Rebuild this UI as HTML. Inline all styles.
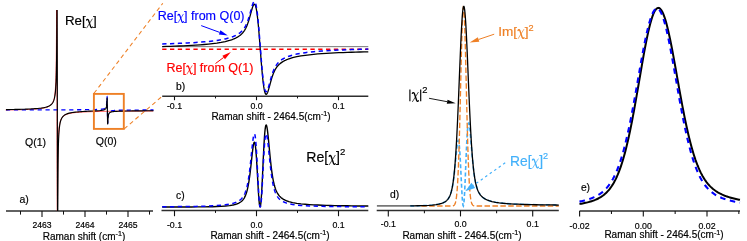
<!DOCTYPE html>
<html><head><meta charset="utf-8"><title>fig</title>
<style>
html,body{margin:0;padding:0;background:#fff;}
body{width:747px;height:241px;overflow:hidden;}
svg{display:block;}
text{font-family:"Liberation Sans",sans-serif;}
</style></head><body>
<svg width="747" height="241" viewBox="0 0 747 241">
<rect width="747" height="241" fill="#fff"/>
<line x1="6" y1="211" x2="153" y2="211" stroke="#2e2e2e" stroke-width="1.45"/>
<line x1="42.0" y1="211" x2="42.0" y2="217.1" stroke="#111" stroke-width="1.1"/>
<line x1="85.0" y1="211" x2="85.0" y2="217.1" stroke="#111" stroke-width="1.1"/>
<line x1="128.0" y1="211" x2="128.0" y2="217.1" stroke="#111" stroke-width="1.1"/>
<line x1="20.5" y1="211" x2="20.5" y2="214.6" stroke="#111" stroke-width="1.05"/>
<line x1="63.5" y1="211" x2="63.5" y2="214.6" stroke="#111" stroke-width="1.05"/>
<line x1="106.5" y1="211" x2="106.5" y2="214.6" stroke="#111" stroke-width="1.05"/>
<line x1="149.5" y1="211" x2="149.5" y2="214.6" stroke="#111" stroke-width="1.05"/>
<clipPath id="ca"><rect x="5" y="10" width="149" height="201"/></clipPath>
<g clip-path="url(#ca)">
<path d="M5.70,109.97 L7.22,109.95 L8.73,109.93 L10.25,109.90 L11.77,109.88 L13.29,109.85 L14.80,109.82 L16.32,109.79 L17.84,109.76 L19.36,109.72 L20.87,109.68 L22.39,109.64 L23.91,109.59 L25.42,109.54 L26.94,109.49 L28.46,109.43 L29.98,109.36 L31.49,109.28 L33.01,109.19 L34.53,109.10 L36.04,108.98 L37.56,108.85 L39.08,108.70 L40.60,108.52 L42.11,108.31 L43.63,108.04 L45.15,107.71 L46.67,107.28 L48.18,106.70 L49.70,105.88 L49.84,105.79 L49.98,105.69 L50.12,105.59 L50.26,105.49 L50.41,105.38 L50.55,105.26 L50.69,105.14 L50.83,105.02 L50.97,104.89 L51.11,104.75 L51.25,104.60 L51.39,104.45 L51.53,104.29 L51.67,104.13 L51.82,103.95 L51.96,103.76 L52.10,103.57 L52.24,103.36 L52.38,103.14 L52.52,102.90 L52.66,102.65 L52.80,102.38 L52.94,102.10 L53.08,101.79 L53.23,101.46 L53.37,101.11 L53.51,100.73 L53.65,100.31 L53.79,99.86 L53.93,99.36 L54.07,98.82 L54.21,98.23 L54.35,97.57 L54.49,96.83 L54.64,96.01 L54.78,95.08 L54.92,94.03 L55.06,92.82 L55.20,91.41 L55.75,82.74 L55.80,81.50 L55.85,80.19 L55.90,78.80 L55.94,77.34 L55.99,75.79 L56.03,74.14 L56.07,72.38 L56.11,70.49 L56.14,68.47 L56.18,66.30 L56.21,63.96 L56.25,61.44 L56.28,58.73 L56.31,55.82 L56.34,52.72 L56.37,49.44 L56.39,45.98 L56.42,42.37 L56.45,38.64 L56.47,34.84 L56.49,31.00 L56.52,27.17 L56.54,23.41 L56.56,19.77 L56.58,16.28 L56.60,13.01 L56.61,9.98 L56.63,7.24 L56.65,4.82 L56.66,2.74 L56.68,1.01 L56.70,-0.35 L56.71,-1.35 L56.72,-1.98 L56.74,-2.25 L56.75,-2.17 L56.76,-1.76 L56.78,-1.03 L56.79,-0.01 L56.80,1.29 L56.81,2.84 L56.82,4.62 L56.83,6.61 L56.84,8.78 L56.85,11.12 L56.86,13.60 L56.87,16.20 L56.87,18.91 L56.88,21.71 L56.89,24.58 L56.90,27.51 L56.90,30.48 L56.91,33.49 L56.92,36.53 L56.93,39.57 L56.93,42.63 L56.94,45.68 L56.94,48.73 L56.95,51.76 L56.96,54.78 L56.96,57.79 L56.97,60.77 L56.97,63.72 L56.98,66.66 L56.98,69.56 L56.99,72.44 L56.99,75.30 L57.00,78.13 L57.00,80.93 L57.01,83.72 L57.01,86.48 L57.02,89.22 L57.02,91.94 L57.02,94.64 L57.03,97.33 L57.03,100.01 L57.04,102.68 L57.04,105.34 L57.05,108.00 L57.05,110.65 L57.05,113.30 L57.06,115.96 L57.06,118.62 L57.07,121.29 L57.07,123.97 L57.08,126.66 L57.08,129.36 L57.08,132.08 L57.09,134.82 L57.09,137.58 L57.10,140.37 L57.10,143.17 L57.11,146.00 L57.11,148.86 L57.12,151.74 L57.12,154.64 L57.13,157.58 L57.13,160.53 L57.14,163.51 L57.14,166.52 L57.15,169.54 L57.16,172.57 L57.16,175.62 L57.17,178.67 L57.17,181.73 L57.18,184.77 L57.19,187.81 L57.20,190.82 L57.20,193.79 L57.21,196.72 L57.22,199.59 L57.23,202.39 L57.23,205.10 L57.24,207.70 L57.25,210.18 L57.26,212.52 L57.27,214.69 L57.28,216.68 L57.29,218.46 L57.30,220.01 L57.31,221.31 L57.32,222.33 L57.34,223.06 L57.35,223.47 L57.36,223.55 L57.38,223.28 L57.39,222.65 L57.40,221.65 L57.42,220.29 L57.44,218.56 L57.45,216.48 L57.47,214.06 L57.49,211.32 L57.50,208.29 L57.52,205.02 L57.54,201.53 L57.56,197.89 L57.58,194.13 L57.61,190.30 L57.63,186.46 L57.65,182.66 L57.68,178.93 L57.71,175.32 L57.73,171.86 L57.76,168.58 L57.79,165.48 L57.80,164.49 L57.82,162.57 L57.85,159.86 L57.89,157.34 L57.92,155.00 L57.93,154.62 L57.96,152.83 L57.99,150.81 L58.03,148.92 L58.05,148.03 L58.07,147.16 L58.11,145.51 L58.16,143.96 L58.18,143.30 L58.20,142.50 L58.25,141.11 L58.30,139.80 L58.30,139.71 L58.35,138.56 L58.43,136.86 L58.55,134.54 L58.68,132.61 L58.81,130.97 L58.93,129.57 L59.06,128.34 L59.18,127.27 L59.31,126.33 L59.43,125.48 L59.56,124.73 L59.68,124.04 L59.81,123.42 L59.94,122.86 L60.06,122.34 L60.19,121.87 L60.31,121.43 L60.44,121.03 L60.56,120.65 L60.69,120.31 L60.82,119.98 L60.94,119.68 L61.07,119.39 L61.19,119.13 L61.32,118.88 L61.44,118.64 L61.57,118.42 L61.69,118.20 L61.82,118.00 L61.95,117.81 L62.07,117.63 L62.20,117.46 L62.32,117.30 L62.45,117.14 L62.57,117.00 L62.70,116.86 L64.23,115.53 L65.77,114.67 L67.30,114.07 L68.84,113.62 L70.37,113.28 L71.90,113.01 L73.44,112.79 L74.97,112.60 L76.51,112.45 L78.04,112.32 L79.57,112.20 L81.11,112.10 L82.64,112.02 L84.17,111.94 L85.71,111.87 L87.24,111.81 L88.78,111.75 L90.31,111.70 L91.84,111.66 L93.38,111.61 L94.91,111.57 L96.45,111.54 L97.98,111.51 L99.51,111.47 L99.70,111.47 L100.08,111.46 L100.47,111.46 L100.85,111.45 L101.05,111.45 L101.24,111.44 L101.62,111.44 L102.01,111.43 L102.39,111.42 L102.58,111.42 L102.78,111.42 L103.16,111.41 L103.55,111.40 L103.93,111.40 L104.12,111.39 L104.32,111.39 L104.70,111.38 L105.08,111.38 L105.10,111.38 L105.20,111.38 L105.30,111.38 L105.40,111.37 L105.47,111.37 L105.49,111.37 L105.57,111.37 L105.65,111.37 L105.65,111.37 L105.73,111.37 L105.80,111.37 L105.85,111.37 L105.87,111.37 L105.93,111.37 L105.99,111.37 L106.05,111.36 L106.11,111.36 L106.16,111.36 L106.21,111.36 L106.24,111.36 L106.25,111.36 L106.30,111.36 L106.34,111.36 L106.38,111.36 L106.42,111.36 L106.46,111.36 L106.49,111.36 L106.52,111.36 L106.55,111.36 L106.58,111.36 L106.61,111.36 L106.62,111.36 L106.64,111.36 L106.66,111.36 L106.69,111.36 L106.71,111.35 L106.73,111.35 L106.75,111.35 L106.77,111.35 L106.79,111.35 L106.81,111.35 L106.83,111.35 L106.85,111.35 L106.86,111.35 L106.88,111.35 L106.89,111.35 L106.90,111.35 L106.92,111.35 L106.93,111.35 L106.94,111.35 L106.95,111.35 L106.97,111.35 L106.98,111.35 L106.99,111.35 L107.00,111.35 L107.01,111.35 L107.01,111.35 L107.02,111.35 L107.03,111.35 L107.04,111.35 L107.05,111.35 L107.06,111.35 L107.06,111.35 L107.07,111.35 L107.08,111.35 L107.09,111.35 L107.10,111.35 L107.11,111.35 L107.12,111.35 L107.13,111.35 L107.14,111.35 L107.14,111.35 L107.15,111.35 L107.16,111.35 L107.17,111.35 L107.18,111.35 L107.18,111.35 L107.19,111.35 L107.20,111.35 L107.21,111.35 L107.22,111.35 L107.23,111.35 L107.25,111.35 L107.26,111.35 L107.27,111.35 L107.28,111.35 L107.30,111.35 L107.31,111.35 L107.32,111.35 L107.34,111.35 L107.35,111.35 L107.37,111.35 L107.39,111.35 L107.39,111.35 L107.41,111.35 L107.43,111.34 L107.45,111.34 L107.47,111.34 L107.49,111.34 L107.51,111.34 L107.54,111.34 L107.56,111.34 L107.59,111.34 L107.62,111.34 L107.65,111.34 L107.68,111.34 L107.71,111.34 L107.74,111.34 L107.78,111.34 L107.78,111.34 L107.82,111.34 L107.86,111.34 L107.90,111.34 L107.95,111.34 L107.99,111.34 L108.04,111.34 L108.09,111.34 L108.15,111.33 L108.16,111.33 L108.21,111.33 L108.27,111.33 L108.33,111.33 L108.40,111.33 L108.47,111.33 L108.55,111.33 L108.55,111.33 L108.63,111.33 L108.71,111.33 L108.72,111.33 L108.80,111.33 L108.90,111.33 L108.93,111.32 L109.00,111.32 L109.10,111.32 L109.32,111.32 L109.70,111.31 L110.08,111.31 L110.25,111.31 L110.47,111.31 L110.85,111.30 L111.24,111.30 L111.62,111.29 L111.78,111.29 L112.01,111.29 L112.39,111.28 L112.78,111.28 L113.16,111.27 L113.32,111.27 L113.55,111.27 L113.93,111.27 L114.32,111.26 L114.70,111.26 L114.85,111.26 L116.39,111.24 L117.92,111.22 L119.45,111.21 L120.99,111.20 L122.52,111.18 L124.06,111.17 L125.59,111.16 L127.12,111.15 L128.66,111.14 L130.19,111.13 L131.73,111.12 L133.26,111.11 L134.79,111.10 L136.33,111.09 L137.86,111.08 L139.39,111.08 L140.93,111.07 L142.46,111.06 L144.00,111.05 L145.53,111.05 L147.06,111.04 L148.60,111.03 L150.13,111.03 L151.67,111.02 L153.20,111.01" fill="none" stroke="#ff0000" stroke-width="0.9" stroke-opacity="0.8"/>
<path d="M6.00,109.86 L7.52,109.86 L9.03,109.86 L10.55,109.86 L12.07,109.86 L13.59,109.86 L15.10,109.86 L16.62,109.86 L18.14,109.85 L19.66,109.85 L21.17,109.85 L22.69,109.85 L24.21,109.85 L25.72,109.85 L27.24,109.85 L28.76,109.85 L30.28,109.85 L31.79,109.85 L33.31,109.85 L34.83,109.84 L36.34,109.84 L37.86,109.84 L39.38,109.84 L40.90,109.84 L42.41,109.84 L43.93,109.84 L45.45,109.83 L46.97,109.83 L48.48,109.83 L50.00,109.83 L50.14,109.83 L50.28,109.83 L50.42,109.83 L50.56,109.83 L50.71,109.83 L50.85,109.83 L50.99,109.83 L51.13,109.83 L51.27,109.83 L51.41,109.83 L51.55,109.83 L51.69,109.83 L51.83,109.83 L51.97,109.83 L52.12,109.83 L52.26,109.83 L52.40,109.83 L52.54,109.83 L52.68,109.83 L52.82,109.83 L52.96,109.83 L53.10,109.83 L53.24,109.83 L53.38,109.83 L53.53,109.83 L53.67,109.82 L53.81,109.82 L53.95,109.82 L54.09,109.82 L54.23,109.82 L54.37,109.82 L54.51,109.82 L54.65,109.82 L54.79,109.82 L54.94,109.82 L55.08,109.82 L55.22,109.82 L55.36,109.82 L55.50,109.82 L56.05,109.82 L56.10,109.82 L56.15,109.82 L56.20,109.82 L56.24,109.82 L56.29,109.82 L56.33,109.82 L56.37,109.82 L56.41,109.82 L56.44,109.82 L56.48,109.82 L56.51,109.82 L56.55,109.82 L56.58,109.82 L56.61,109.82 L56.64,109.82 L56.67,109.82 L56.69,109.82 L56.72,109.82 L56.75,109.82 L56.77,109.82 L56.79,109.82 L56.82,109.82 L56.84,109.82 L56.86,109.82 L56.88,109.82 L56.90,109.82 L56.91,109.82 L56.93,109.82 L56.95,109.82 L56.96,109.82 L56.98,109.82 L57.00,109.82 L57.01,109.82 L57.02,109.82 L57.04,109.82 L57.05,109.82 L57.06,109.82 L57.08,109.82 L57.09,109.82 L57.10,109.82 L57.11,109.82 L57.12,109.82 L57.13,109.82 L57.14,109.82 L57.15,109.82 L57.16,109.82 L57.17,109.82 L57.17,109.82 L57.18,109.82 L57.19,109.82 L57.20,109.82 L57.20,109.82 L57.21,109.82 L57.22,109.82 L57.23,109.82 L57.23,109.82 L57.24,109.82 L57.24,109.82 L57.25,109.82 L57.26,109.82 L57.26,109.82 L57.27,109.82 L57.27,109.82 L57.28,109.82 L57.28,109.82 L57.29,109.82 L57.29,109.82 L57.30,109.82 L57.30,109.82 L57.31,109.82 L57.31,109.82 L57.32,109.82 L57.32,109.82 L57.32,109.82 L57.33,109.82 L57.33,109.82 L57.34,109.82 L57.34,109.82 L57.35,109.82 L57.35,109.82 L57.35,109.82 L57.36,109.82 L57.36,109.82 L57.37,109.82 L57.37,109.82 L57.38,109.82 L57.38,109.82 L57.38,109.82 L57.39,109.82 L57.39,109.82 L57.40,109.82 L57.40,109.82 L57.41,109.82 L57.41,109.82 L57.42,109.82 L57.42,109.82 L57.43,109.82 L57.43,109.82 L57.44,109.82 L57.44,109.82 L57.45,109.82 L57.46,109.82 L57.46,109.82 L57.47,109.82 L57.47,109.82 L57.48,109.82 L57.49,109.82 L57.50,109.82 L57.50,109.82 L57.51,109.82 L57.52,109.82 L57.53,109.82 L57.53,109.82 L57.54,109.82 L57.55,109.82 L57.56,109.82 L57.57,109.82 L57.58,109.82 L57.59,109.82 L57.60,109.82 L57.61,109.82 L57.62,109.82 L57.64,109.82 L57.65,109.82 L57.66,109.82 L57.68,109.82 L57.69,109.82 L57.70,109.82 L57.72,109.82 L57.74,109.82 L57.75,109.82 L57.77,109.82 L57.79,109.82 L57.80,109.82 L57.82,109.82 L57.84,109.82 L57.86,109.82 L57.88,109.82 L57.91,109.82 L57.93,109.82 L57.95,109.82 L57.98,109.82 L58.01,109.82 L58.03,109.82 L58.06,109.82 L58.09,109.82 L58.10,109.82 L58.12,109.82 L58.15,109.82 L58.19,109.82 L58.22,109.82 L58.23,109.82 L58.26,109.82 L58.29,109.82 L58.33,109.82 L58.35,109.82 L58.37,109.82 L58.41,109.82 L58.46,109.82 L58.48,109.82 L58.50,109.82 L58.55,109.82 L58.60,109.82 L58.60,109.82 L58.65,109.82 L58.73,109.82 L58.85,109.82 L58.98,109.82 L59.11,109.82 L59.23,109.82 L59.36,109.82 L59.48,109.82 L59.61,109.82 L59.73,109.82 L59.86,109.82 L59.98,109.81 L60.11,109.81 L60.24,109.81 L60.36,109.81 L60.49,109.81 L60.61,109.81 L60.74,109.81 L60.86,109.81 L60.99,109.81 L61.12,109.81 L61.24,109.81 L61.37,109.81 L61.49,109.81 L61.62,109.81 L61.74,109.81 L61.87,109.81 L61.99,109.81 L62.12,109.81 L62.25,109.81 L62.37,109.81 L62.50,109.81 L62.62,109.81 L62.75,109.81 L62.87,109.81 L63.00,109.81 L64.53,109.81 L66.07,109.80 L67.60,109.80 L69.14,109.79 L70.67,109.79 L72.20,109.79 L73.74,109.78 L75.27,109.77 L76.81,109.77 L78.34,109.76 L79.87,109.75 L81.41,109.74 L82.94,109.74 L84.47,109.72 L86.01,109.71 L87.54,109.70 L89.08,109.68 L90.61,109.66 L92.14,109.64 L93.68,109.61 L95.21,109.57 L96.75,109.52 L98.28,109.46 L99.81,109.37 L100.00,109.35 L100.38,109.32 L100.77,109.29 L101.15,109.25 L101.35,109.23 L101.54,109.21 L101.92,109.16 L102.31,109.11 L102.69,109.04 L102.88,109.00 L103.08,108.96 L103.46,108.87 L103.85,108.76 L104.23,108.62 L104.42,108.54 L104.62,108.44 L105.00,108.20 L105.38,107.87 L105.40,107.85 L105.50,107.74 L105.60,107.61 L105.70,107.48 L105.77,107.37 L105.79,107.34 L105.87,107.20 L105.95,107.04 L105.95,107.04 L106.03,106.87 L106.10,106.69 L106.15,106.53 L106.17,106.50 L106.23,106.29 L106.29,106.06 L106.35,105.82 L106.41,105.56 L106.46,105.27 L106.51,104.95 L106.54,104.73 L106.55,104.60 L106.60,104.21 L106.64,103.79 L106.68,103.32 L106.72,102.80 L106.76,102.26 L106.79,101.68 L106.82,101.08 L106.85,100.48 L106.88,99.88 L106.91,99.31 L106.92,99.10 L106.94,98.77 L106.96,98.28 L106.99,97.86 L107.01,97.50 L107.03,97.22 L107.05,97.03 L107.07,96.91 L107.09,96.88 L107.11,96.93 L107.13,97.06 L107.15,97.26 L107.16,97.52 L107.18,97.85 L107.19,98.22 L107.20,98.64 L107.22,99.10 L107.23,99.60 L107.24,100.12 L107.25,100.67 L107.27,101.24 L107.28,101.83 L107.29,102.42 L107.30,103.03 L107.31,103.58 L107.31,103.64 L107.32,104.26 L107.33,104.88 L107.34,105.51 L107.35,106.14 L107.36,106.76 L107.36,107.39 L107.37,108.02 L107.38,108.65 L107.39,109.27 L107.40,109.90 L107.41,110.53 L107.42,111.15 L107.43,111.78 L107.44,112.41 L107.44,113.04 L107.45,113.66 L107.46,114.29 L107.47,114.92 L107.48,115.54 L107.48,115.64 L107.49,116.16 L107.50,116.77 L107.51,117.38 L107.52,117.97 L107.53,118.56 L107.55,119.13 L107.56,119.68 L107.57,120.20 L107.58,120.70 L107.60,121.16 L107.61,121.58 L107.62,121.95 L107.64,122.28 L107.65,122.54 L107.67,122.74 L107.69,122.87 L107.69,122.88 L107.71,122.92 L107.73,122.89 L107.75,122.77 L107.77,122.58 L107.79,122.30 L107.81,121.94 L107.84,121.52 L107.86,121.03 L107.89,120.49 L107.92,119.92 L107.95,119.32 L107.98,118.72 L108.01,118.12 L108.04,117.54 L108.08,117.04 L108.08,117.00 L108.12,116.48 L108.16,116.01 L108.20,115.59 L108.25,115.20 L108.29,114.85 L108.34,114.53 L108.39,114.24 L108.45,113.98 L108.46,113.93 L108.51,113.74 L108.57,113.51 L108.63,113.30 L108.70,113.11 L108.77,112.93 L108.85,112.77 L108.85,112.76 L108.93,112.60 L109.01,112.46 L109.02,112.45 L109.10,112.32 L109.20,112.19 L109.23,112.14 L109.30,112.06 L109.40,111.95 L109.62,111.74 L110.00,111.46 L110.38,111.26 L110.55,111.19 L110.77,111.10 L111.15,110.98 L111.54,110.88 L111.92,110.79 L112.08,110.76 L112.31,110.72 L112.69,110.66 L113.08,110.61 L113.46,110.57 L113.62,110.55 L113.85,110.53 L114.23,110.49 L114.62,110.46 L115.00,110.43 L115.15,110.42 L116.69,110.33 L118.22,110.27 L119.75,110.23 L121.29,110.19 L122.82,110.16 L124.36,110.14 L125.89,110.12 L127.42,110.10 L128.96,110.09 L130.49,110.07 L132.03,110.06 L133.56,110.05 L135.09,110.05 L136.63,110.04 L138.16,110.03 L139.69,110.02 L141.23,110.02 L142.76,110.01 L144.30,110.01 L145.83,110.00 L147.36,110.00 L148.90,110.00 L150.43,109.99 L151.97,109.99 L153.50,109.99" fill="none" stroke="#0000ff" stroke-width="1.3" stroke-dasharray="4.2 3.7"/>
<path d="M6.00,109.58 L7.52,109.56 L9.03,109.53 L10.55,109.51 L12.07,109.48 L13.59,109.46 L15.10,109.43 L16.62,109.40 L18.14,109.36 L19.66,109.33 L21.17,109.29 L22.69,109.24 L24.21,109.20 L25.72,109.14 L27.24,109.09 L28.76,109.02 L30.28,108.95 L31.79,108.88 L33.31,108.79 L34.83,108.69 L36.34,108.58 L37.86,108.45 L39.38,108.29 L40.90,108.11 L42.41,107.89 L43.93,107.63 L45.45,107.29 L46.97,106.86 L48.48,106.28 L50.00,105.46 L50.14,105.37 L50.28,105.27 L50.42,105.17 L50.56,105.07 L50.71,104.96 L50.85,104.84 L50.99,104.72 L51.13,104.60 L51.27,104.46 L51.41,104.33 L51.55,104.18 L51.69,104.03 L51.83,103.87 L51.97,103.70 L52.12,103.53 L52.26,103.34 L52.40,103.14 L52.54,102.94 L52.68,102.71 L52.82,102.48 L52.96,102.23 L53.10,101.96 L53.24,101.67 L53.38,101.37 L53.53,101.04 L53.67,100.68 L53.81,100.30 L53.95,99.88 L54.09,99.43 L54.23,98.94 L54.37,98.40 L54.51,97.80 L54.65,97.14 L54.79,96.41 L54.94,95.58 L55.08,94.66 L55.22,93.60 L55.36,92.39 L55.50,90.98 L56.05,82.31 L56.10,81.07 L56.15,79.76 L56.20,78.37 L56.24,76.91 L56.29,75.36 L56.33,73.71 L56.37,71.95 L56.41,70.06 L56.44,68.04 L56.48,65.87 L56.51,63.53 L56.55,61.01 L56.58,58.30 L56.61,55.39 L56.64,52.29 L56.67,49.01 L56.69,45.55 L56.72,41.94 L56.75,38.21 L56.77,34.41 L56.79,30.57 L56.82,26.75 L56.84,22.98 L56.86,19.34 L56.88,15.85 L56.90,12.58 L56.91,9.55 L56.93,6.81 L56.95,4.39 L56.96,2.31 L56.98,0.58 L57.00,-0.78 L57.01,-1.78 L57.02,-2.41 L57.04,-2.68 L57.05,-2.60 L57.06,-2.19 L57.08,-1.46 L57.09,-0.44 L57.10,0.86 L57.11,2.41 L57.12,4.19 L57.13,6.18 L57.14,8.35 L57.15,10.69 L57.16,13.17 L57.17,15.77 L57.17,18.48 L57.18,21.28 L57.19,24.15 L57.20,27.08 L57.20,30.05 L57.21,33.06 L57.22,36.10 L57.23,39.14 L57.23,42.20 L57.24,45.25 L57.24,48.30 L57.25,51.33 L57.26,54.35 L57.26,57.35 L57.27,60.34 L57.27,63.29 L57.28,66.22 L57.28,69.13 L57.29,72.01 L57.29,74.87 L57.30,77.70 L57.30,80.50 L57.31,83.29 L57.31,86.05 L57.32,88.79 L57.32,91.51 L57.32,94.21 L57.33,96.90 L57.33,99.58 L57.34,102.25 L57.34,104.91 L57.35,107.57 L57.35,110.22 L57.35,112.87 L57.36,115.53 L57.36,118.19 L57.37,120.86 L57.37,123.54 L57.38,126.23 L57.38,128.93 L57.38,131.65 L57.39,134.39 L57.39,137.15 L57.40,139.93 L57.40,142.74 L57.41,145.57 L57.41,148.43 L57.42,151.31 L57.42,154.21 L57.43,157.15 L57.43,160.10 L57.44,163.08 L57.44,166.09 L57.45,169.11 L57.46,172.14 L57.46,175.19 L57.47,178.24 L57.47,181.30 L57.48,184.34 L57.49,187.38 L57.50,190.39 L57.50,193.36 L57.51,196.29 L57.52,199.16 L57.53,201.96 L57.53,204.67 L57.54,207.27 L57.55,209.75 L57.56,212.09 L57.57,214.26 L57.58,216.25 L57.59,218.03 L57.60,219.58 L57.61,220.88 L57.62,221.90 L57.64,222.63 L57.65,223.04 L57.66,223.12 L57.68,222.85 L57.69,222.22 L57.70,221.22 L57.72,219.86 L57.74,218.13 L57.75,216.05 L57.77,213.62 L57.79,210.89 L57.80,207.86 L57.82,204.59 L57.84,201.10 L57.86,197.46 L57.88,193.69 L57.91,189.87 L57.93,186.03 L57.95,182.23 L57.98,178.50 L58.01,174.89 L58.03,171.43 L58.06,168.14 L58.09,165.04 L58.10,164.06 L58.12,162.14 L58.15,159.43 L58.19,156.91 L58.22,154.57 L58.23,154.19 L58.26,152.40 L58.29,150.37 L58.33,148.49 L58.35,147.59 L58.37,146.73 L58.41,145.08 L58.46,143.53 L58.48,142.87 L58.50,142.06 L58.55,140.68 L58.60,139.37 L58.60,139.28 L58.65,138.13 L58.73,136.43 L58.85,134.11 L58.98,132.17 L59.11,130.54 L59.23,129.13 L59.36,127.91 L59.48,126.84 L59.61,125.89 L59.73,125.05 L59.86,124.29 L59.98,123.61 L60.11,122.99 L60.24,122.42 L60.36,121.91 L60.49,121.43 L60.61,121.00 L60.74,120.59 L60.86,120.22 L60.99,119.87 L61.12,119.54 L61.24,119.24 L61.37,118.96 L61.49,118.69 L61.62,118.44 L61.74,118.20 L61.87,117.98 L61.99,117.77 L62.12,117.57 L62.25,117.38 L62.37,117.19 L62.50,117.02 L62.62,116.86 L62.75,116.70 L62.87,116.56 L63.00,116.41 L64.53,115.08 L66.07,114.22 L67.60,113.61 L69.14,113.17 L70.67,112.82 L72.20,112.54 L73.74,112.32 L75.27,112.13 L76.81,111.97 L78.34,111.83 L79.87,111.71 L81.41,111.60 L82.94,111.50 L84.47,111.41 L86.01,111.33 L87.54,111.26 L89.08,111.18 L90.61,111.11 L92.14,111.04 L93.68,110.97 L95.21,110.89 L96.75,110.81 L98.28,110.71 L99.81,110.59 L100.00,110.57 L100.38,110.54 L100.77,110.50 L101.15,110.45 L101.35,110.43 L101.54,110.40 L101.92,110.35 L102.31,110.28 L102.69,110.21 L102.88,110.17 L103.08,110.13 L103.46,110.03 L103.85,109.91 L104.23,109.77 L104.42,109.68 L104.62,109.58 L105.00,109.34 L105.38,109.00 L105.40,108.98 L105.50,108.86 L105.60,108.74 L105.70,108.61 L105.77,108.49 L105.79,108.47 L105.87,108.32 L105.95,108.16 L105.95,108.16 L106.03,107.99 L106.10,107.81 L106.15,107.65 L106.17,107.61 L106.23,107.40 L106.29,107.18 L106.35,106.94 L106.41,106.67 L106.46,106.38 L106.51,106.06 L106.54,105.84 L106.55,105.71 L106.60,105.32 L106.64,104.90 L106.68,104.42 L106.72,103.91 L106.76,103.37 L106.79,102.79 L106.82,102.19 L106.85,101.59 L106.88,100.99 L106.91,100.41 L106.92,100.20 L106.94,99.88 L106.96,99.39 L106.99,98.96 L107.01,98.61 L107.03,98.33 L107.05,98.13 L107.07,98.02 L107.09,97.99 L107.11,98.04 L107.13,98.16 L107.15,98.36 L107.16,98.63 L107.18,98.95 L107.19,99.32 L107.20,99.74 L107.22,100.21 L107.23,100.70 L107.24,101.23 L107.25,101.78 L107.27,102.34 L107.28,102.93 L107.29,103.52 L107.30,104.13 L107.31,104.68 L107.31,104.74 L107.32,105.36 L107.33,105.98 L107.34,106.61 L107.35,107.24 L107.36,107.86 L107.36,108.49 L107.37,109.12 L107.38,109.74 L107.39,110.37 L107.40,111.00 L107.41,111.63 L107.42,112.25 L107.43,112.88 L107.44,113.51 L107.44,114.14 L107.45,114.76 L107.46,115.39 L107.47,116.01 L107.48,116.64 L107.48,116.74 L107.49,117.25 L107.50,117.87 L107.51,118.47 L107.52,119.07 L107.53,119.66 L107.55,120.22 L107.56,120.77 L107.57,121.30 L107.58,121.79 L107.60,122.25 L107.61,122.68 L107.62,123.05 L107.64,123.37 L107.65,123.64 L107.67,123.83 L107.69,123.96 L107.69,123.98 L107.71,124.01 L107.73,123.98 L107.75,123.87 L107.77,123.67 L107.79,123.39 L107.81,123.04 L107.84,122.61 L107.86,122.12 L107.89,121.58 L107.92,121.01 L107.95,120.41 L107.98,119.81 L108.01,119.21 L108.04,118.63 L108.08,118.13 L108.08,118.09 L108.12,117.57 L108.16,117.10 L108.20,116.67 L108.25,116.29 L108.29,115.93 L108.34,115.62 L108.39,115.33 L108.45,115.06 L108.46,115.01 L108.51,114.82 L108.57,114.60 L108.63,114.39 L108.70,114.19 L108.77,114.01 L108.85,113.85 L108.85,113.84 L108.93,113.68 L109.01,113.53 L109.02,113.53 L109.10,113.39 L109.20,113.26 L109.23,113.22 L109.30,113.14 L109.40,113.02 L109.62,112.81 L110.00,112.53 L110.38,112.32 L110.55,112.25 L110.77,112.16 L111.15,112.03 L111.54,111.92 L111.92,111.84 L112.08,111.80 L112.31,111.76 L112.69,111.70 L113.08,111.64 L113.46,111.59 L113.62,111.57 L113.85,111.55 L114.23,111.51 L114.62,111.47 L115.00,111.44 L115.15,111.43 L116.69,111.32 L118.22,111.25 L119.75,111.19 L121.29,111.14 L122.82,111.10 L124.36,111.06 L125.89,111.03 L127.42,111.00 L128.96,110.98 L130.49,110.95 L132.03,110.93 L133.56,110.91 L135.09,110.90 L136.63,110.88 L138.16,110.86 L139.69,110.85 L141.23,110.84 L142.76,110.82 L144.30,110.81 L145.83,110.80 L147.36,110.79 L148.90,110.78 L150.43,110.77 L151.97,110.76 L153.50,110.75" fill="none" stroke="#000" stroke-width="1.15" stroke-linejoin="round"/>
</g>
<rect x="93.9" y="93.9" width="29.9" height="35" fill="none" stroke="#ee8026" stroke-width="1.9"/>
<line x1="94" y1="93.3" x2="162.8" y2="3.3" stroke="#ee8026" stroke-width="1.05" stroke-dasharray="4.2 3.2"/>
<line x1="124.2" y1="128.9" x2="162.5" y2="96" stroke="#ee8026" stroke-width="1.05" stroke-dasharray="4.2 3.2"/>
<line x1="162.2" y1="96.3" x2="368.3" y2="96.3" stroke="#2e2e2e" stroke-width="1.45"/>
<line x1="174.5" y1="96.3" x2="174.5" y2="100.2" stroke="#111" stroke-width="1.1"/>
<line x1="256.5" y1="96.3" x2="256.5" y2="100.2" stroke="#111" stroke-width="1.1"/>
<line x1="338.5" y1="96.3" x2="338.5" y2="100.2" stroke="#111" stroke-width="1.1"/>
<line x1="215.5" y1="96.3" x2="215.5" y2="98.39999999999999" stroke="#111" stroke-width="1.05"/>
<line x1="297.5" y1="96.3" x2="297.5" y2="98.39999999999999" stroke="#111" stroke-width="1.05"/>
<line x1="162.2" y1="46.65" x2="368.3" y2="46.65" stroke="#777" stroke-width="1"/>
<line x1="162.2" y1="49.25" x2="368.3" y2="49.25" stroke="#ff0000" stroke-width="1.3" stroke-dasharray="4.3 3.5"/>
<path d="M162.20,46.59 L166.41,46.47 L170.61,46.33 L174.82,46.18 L179.02,46.02 L183.23,45.84 L187.44,45.64 L191.64,45.41 L195.85,45.15 L200.06,44.86 L204.26,44.52 L208.47,44.13 L212.67,43.66 L216.88,43.10 L221.09,42.42 L225.29,41.56 L229.50,40.46 L231.57,39.78 L231.93,39.65 L232.29,39.52 L232.66,39.38 L233.02,39.25 L233.38,39.10 L233.70,38.97 L233.74,38.95 L234.10,38.80 L234.46,38.64 L234.82,38.48 L235.18,38.31 L235.54,38.14 L235.90,37.96 L236.27,37.77 L236.63,37.58 L236.99,37.38 L237.35,37.18 L237.71,36.96 L237.91,36.84 L238.07,36.74 L238.43,36.51 L238.79,36.27 L239.15,36.02 L239.51,35.76 L239.88,35.49 L240.24,35.20 L240.60,34.90 L240.96,34.59 L241.32,34.26 L241.68,33.92 L242.04,33.55 L242.12,33.47 L242.40,33.17 L242.76,32.76 L243.12,32.33 L243.49,31.88 L243.85,31.39 L244.21,30.88 L244.57,30.33 L244.93,29.74 L245.29,29.12 L245.65,28.45 L246.01,27.73 L246.32,27.08 L246.37,26.97 L246.73,26.15 L247.10,25.28 L247.46,24.36 L247.82,23.37 L248.18,22.33 L248.54,21.23 L248.90,20.07 L249.26,18.86 L249.62,17.61 L249.98,16.31 L250.34,14.99 L250.53,14.31 L250.71,13.65 L251.07,12.31 L251.43,10.99 L251.79,9.72 L252.15,8.50 L252.51,7.38 L252.87,6.38 L253.23,5.54 L253.59,4.88 L253.95,4.44 L254.32,4.25 L254.68,4.34 L254.73,4.38 L255.04,4.74 L255.40,5.49 L255.76,6.59 L256.12,8.07 L256.48,9.94 L256.84,12.20 L257.20,14.85 L257.56,17.88 L257.93,21.26 L258.29,24.97 L258.65,28.96 L258.94,32.40 L259.01,33.21 L259.37,37.67 L259.73,42.26 L260.09,46.95 L260.45,51.67 L260.81,56.36 L261.17,60.95 L261.54,65.41 L261.90,69.65 L262.26,73.65 L262.62,77.36 L262.98,80.74 L263.15,82.19 L263.34,83.77 L263.70,86.42 L264.06,88.68 L264.42,90.55 L264.78,92.03 L265.15,93.13 L265.51,93.88 L265.87,94.28 L266.23,94.37 L266.59,94.18 L266.95,93.74 L267.31,93.08 L267.35,92.99 L267.67,92.24 L268.03,91.24 L268.39,90.12 L268.76,88.90 L269.12,87.63 L269.48,86.31 L269.84,84.97 L270.20,83.63 L270.56,82.31 L270.92,81.01 L271.28,79.76 L271.56,78.83 L271.64,78.55 L272.00,77.39 L272.37,76.29 L272.73,75.25 L273.09,74.26 L273.45,73.34 L273.81,72.47 L274.17,71.65 L274.53,70.89 L274.89,70.17 L275.25,69.50 L275.61,68.88 L275.77,68.63 L275.98,68.29 L276.34,67.74 L276.70,67.23 L277.06,66.74 L277.42,66.29 L277.78,65.86 L278.14,65.45 L278.50,65.07 L278.86,64.70 L279.22,64.36 L279.59,64.03 L279.95,63.72 L279.97,63.70 L280.31,63.42 L280.67,63.13 L281.03,62.86 L281.39,62.60 L281.75,62.35 L282.11,62.11 L282.47,61.88 L282.83,61.66 L283.20,61.44 L283.56,61.24 L283.92,61.04 L284.18,60.90 L284.28,60.85 L284.64,60.66 L285.00,60.48 L285.36,60.31 L285.72,60.14 L286.08,59.98 L286.44,59.82 L286.81,59.67 L287.17,59.52 L287.53,59.37 L287.89,59.24 L288.25,59.10 L288.38,59.05 L288.61,58.97 L288.97,58.84 L292.59,57.72 L296.80,56.72 L301.00,55.93 L305.21,55.30 L309.41,54.78 L313.62,54.34 L317.83,53.97 L322.03,53.65 L326.24,53.37 L330.44,53.12 L334.65,52.90 L338.86,52.71 L343.06,52.54 L347.27,52.38 L351.48,52.24 L355.68,52.11 L359.89,51.99 L364.09,51.88 L368.30,51.78" fill="none" stroke="#000" stroke-width="1.3" stroke-linejoin="round"/>
<path d="M162.20,43.93 L166.41,43.81 L170.61,43.67 L174.82,43.52 L179.02,43.36 L183.23,43.18 L187.44,42.98 L191.64,42.75 L195.85,42.49 L200.06,42.20 L204.26,41.86 L208.47,41.47 L212.67,41.00 L216.88,40.44 L221.09,39.76 L225.29,38.90 L229.50,37.80 L231.57,37.12 L231.93,36.99 L232.29,36.86 L232.66,36.72 L233.02,36.59 L233.38,36.44 L233.70,36.31 L233.74,36.29 L234.10,36.14 L234.46,35.98 L234.82,35.82 L235.18,35.65 L235.54,35.48 L235.90,35.30 L236.27,35.11 L236.63,34.92 L236.99,34.72 L237.35,34.52 L237.71,34.30 L237.91,34.18 L238.07,34.08 L238.43,33.85 L238.79,33.61 L239.15,33.36 L239.51,33.10 L239.88,32.83 L240.24,32.54 L240.60,32.24 L240.96,31.93 L241.32,31.60 L241.68,31.26 L242.04,30.89 L242.12,30.81 L242.40,30.51 L242.76,30.10 L243.12,29.67 L243.49,29.22 L243.85,28.73 L244.21,28.22 L244.57,27.67 L244.93,27.08 L245.29,26.46 L245.65,25.79 L246.01,25.07 L246.32,24.42 L246.37,24.31 L246.73,23.49 L247.10,22.62 L247.46,21.70 L247.82,20.71 L248.18,19.67 L248.54,18.57 L248.90,17.41 L249.26,16.20 L249.62,14.95 L249.98,13.65 L250.34,12.33 L250.53,11.65 L250.71,10.99 L251.07,9.65 L251.43,8.33 L251.79,7.06 L252.15,5.84 L252.51,4.72 L252.87,3.72 L253.23,2.88 L253.59,2.22 L253.95,1.78 L254.32,1.59 L254.68,1.68 L254.73,1.72 L255.04,2.08 L255.40,2.83 L255.76,3.93 L256.12,5.41 L256.48,7.28 L256.84,9.54 L257.20,12.19 L257.56,15.22 L257.93,18.60 L258.29,22.31 L258.65,26.30 L258.94,29.74 L259.01,30.55 L259.37,35.01 L259.73,39.60 L260.09,44.29 L260.45,49.01 L260.81,53.70 L261.17,58.29 L261.54,62.75 L261.90,67.00 L262.26,70.99 L262.62,74.70 L262.98,78.08 L263.15,79.53 L263.34,81.11 L263.70,83.76 L264.06,86.02 L264.42,87.89 L264.78,89.37 L265.15,90.47 L265.51,91.22 L265.87,91.62 L266.23,91.71 L266.59,91.52 L266.95,91.08 L267.31,90.42 L267.35,90.33 L267.67,89.58 L268.03,88.58 L268.39,87.46 L268.76,86.24 L269.12,84.97 L269.48,83.65 L269.84,82.31 L270.20,80.97 L270.56,79.65 L270.92,78.35 L271.28,77.10 L271.56,76.17 L271.64,75.89 L272.00,74.73 L272.37,73.63 L272.73,72.59 L273.09,71.60 L273.45,70.68 L273.81,69.81 L274.17,68.99 L274.53,68.23 L274.89,67.51 L275.25,66.84 L275.61,66.22 L275.77,65.97 L275.98,65.63 L276.34,65.08 L276.70,64.57 L277.06,64.08 L277.42,63.63 L277.78,63.20 L278.14,62.79 L278.50,62.41 L278.86,62.04 L279.22,61.70 L279.59,61.37 L279.95,61.06 L279.97,61.04 L280.31,60.76 L280.67,60.47 L281.03,60.20 L281.39,59.94 L281.75,59.69 L282.11,59.45 L282.47,59.22 L282.83,59.00 L283.20,58.78 L283.56,58.58 L283.92,58.38 L284.18,58.24 L284.28,58.19 L284.64,58.00 L285.00,57.82 L285.36,57.65 L285.72,57.48 L286.08,57.32 L286.44,57.16 L286.81,57.01 L287.17,56.86 L287.53,56.71 L287.89,56.58 L288.25,56.44 L288.38,56.39 L288.61,56.31 L288.97,56.18 L292.59,55.06 L296.80,54.06 L301.00,53.27 L305.21,52.64 L309.41,52.12 L313.62,51.68 L317.83,51.31 L322.03,50.99 L326.24,50.71 L330.44,50.46 L334.65,50.24 L338.86,50.05 L343.06,49.88 L347.27,49.72 L351.48,49.58 L355.68,49.45 L359.89,49.33 L364.09,49.22 L368.30,49.12" fill="none" stroke="#0000ff" stroke-width="1.5" stroke-dasharray="4.3 3.5" stroke-linejoin="round"/>
<line x1="201.2" y1="25.6" x2="219.64" y2="32.39" stroke="#0000ff" stroke-width="1"/>
<polygon points="227.80,35.40 218.88,34.46 220.40,30.33" fill="#0000ff"/>
<line x1="215.5" y1="63.5" x2="223.67" y2="57.45" stroke="#ff0000" stroke-width="1"/>
<polygon points="230.90,52.10 224.98,59.22 222.36,55.69" fill="#ff0000"/>
<line x1="161.5" y1="210.5" x2="368.3" y2="210.5" stroke="#2e2e2e" stroke-width="1.45"/>
<line x1="174.5" y1="210.5" x2="174.5" y2="216.2" stroke="#111" stroke-width="1.1"/>
<line x1="256.5" y1="210.5" x2="256.5" y2="216.2" stroke="#111" stroke-width="1.1"/>
<line x1="338.5" y1="210.5" x2="338.5" y2="216.2" stroke="#111" stroke-width="1.1"/>
<line x1="215.5" y1="210.5" x2="215.5" y2="212.9" stroke="#111" stroke-width="1.05"/>
<line x1="297.5" y1="210.5" x2="297.5" y2="212.9" stroke="#111" stroke-width="1.05"/>
<path d="M162.20,207.00 L166.41,207.00 L170.61,207.00 L174.82,206.99 L179.02,206.99 L183.23,206.98 L187.44,206.96 L191.64,206.94 L195.85,206.92 L200.06,206.88 L204.26,206.84 L208.47,206.77 L212.67,206.68 L216.88,206.55 L221.09,206.35 L225.29,206.07 L229.50,205.62 L231.57,205.30 L231.93,205.23 L232.29,205.17 L232.66,205.10 L233.02,205.02 L233.38,204.95 L233.70,204.87 L233.74,204.86 L234.10,204.78 L234.46,204.69 L234.82,204.59 L235.18,204.49 L235.54,204.39 L235.90,204.28 L236.27,204.16 L236.63,204.04 L236.99,203.90 L237.35,203.76 L237.71,203.62 L237.91,203.53 L238.07,203.46 L238.43,203.29 L238.79,203.12 L239.15,202.93 L239.51,202.72 L239.88,202.51 L240.24,202.27 L240.60,202.02 L240.96,201.76 L241.32,201.47 L241.68,201.15 L242.04,200.81 L242.12,200.74 L242.40,200.45 L242.76,200.05 L243.12,199.61 L243.49,199.13 L243.85,198.61 L244.21,198.03 L244.57,197.40 L244.93,196.69 L245.29,195.92 L245.65,195.06 L246.01,194.10 L246.32,193.19 L246.37,193.04 L246.73,191.86 L247.10,190.54 L247.46,189.08 L247.82,187.47 L248.18,185.68 L248.54,183.70 L248.90,181.53 L249.26,179.16 L249.62,176.59 L249.98,173.82 L250.34,170.86 L250.53,169.29 L250.71,167.75 L251.07,164.50 L251.43,161.17 L251.79,157.83 L252.15,154.54 L252.51,151.42 L252.87,148.55 L253.23,146.07 L253.59,144.10 L253.95,142.76 L254.32,142.18 L254.68,142.46 L254.73,142.60 L255.04,143.70 L255.40,145.92 L255.76,149.16 L256.12,153.36 L256.48,158.43 L256.84,164.23 L257.20,170.55 L257.56,177.16 L257.93,183.76 L258.29,190.05 L258.65,195.73 L258.94,199.68 L259.01,200.49 L259.37,204.09 L259.73,206.31 L260.09,207.00 L260.45,206.09 L260.81,203.60 L261.17,199.62 L261.54,194.32 L261.90,187.92 L262.26,180.71 L262.62,173.00 L262.98,165.10 L263.15,161.47 L263.34,157.34 L263.70,150.00 L264.06,143.33 L264.42,137.54 L264.78,132.77 L265.15,129.12 L265.51,126.60 L265.87,125.22 L266.23,124.90 L266.59,125.55 L266.95,127.06 L267.31,129.28 L267.35,129.58 L267.67,132.09 L268.03,135.34 L268.39,138.89 L268.76,142.64 L269.12,146.48 L269.48,150.31 L269.84,154.07 L270.20,157.70 L270.56,161.16 L270.92,164.43 L271.28,167.48 L271.56,169.67 L271.64,170.32 L272.00,172.93 L272.37,175.33 L272.73,177.52 L273.09,179.51 L273.45,181.33 L273.81,182.97 L274.17,184.47 L274.53,185.82 L274.89,187.05 L275.25,188.17 L275.61,189.19 L275.77,189.58 L275.98,190.11 L276.34,190.96 L276.70,191.73 L277.06,192.44 L277.42,193.10 L277.78,193.70 L278.14,194.26 L278.50,194.77 L278.86,195.25 L279.22,195.69 L279.59,196.11 L279.95,196.50 L279.97,196.52 L280.31,196.86 L280.67,197.20 L281.03,197.53 L281.39,197.83 L281.75,198.11 L282.11,198.38 L282.47,198.64 L282.83,198.88 L283.20,199.11 L283.56,199.33 L283.92,199.54 L284.18,199.68 L284.28,199.74 L284.64,199.92 L285.00,200.10 L285.36,200.28 L285.72,200.44 L286.08,200.60 L286.44,200.75 L286.81,200.89 L287.17,201.03 L287.53,201.16 L287.89,201.29 L288.25,201.41 L288.38,201.46 L288.61,201.53 L288.97,201.64 L292.59,202.58 L296.80,203.34 L301.00,203.89 L305.21,204.30 L309.41,204.62 L313.62,204.87 L317.83,205.07 L322.03,205.24 L326.24,205.37 L330.44,205.49 L334.65,205.59 L338.86,205.68 L343.06,205.75 L347.27,205.82 L351.48,205.87 L355.68,205.93 L359.89,205.97 L364.09,206.01 L368.30,206.05" fill="none" stroke="#000" stroke-width="1.4" stroke-linejoin="round"/>
<path d="M162.20,206.73 L166.41,206.71 L170.61,206.68 L174.82,206.65 L179.02,206.61 L183.23,206.57 L187.44,206.51 L191.64,206.45 L195.85,206.38 L200.06,206.29 L204.26,206.17 L208.47,206.03 L212.67,205.85 L216.88,205.61 L221.09,205.29 L225.29,204.84 L229.50,204.17 L231.57,203.73 L231.93,203.64 L232.29,203.55 L232.66,203.45 L233.02,203.35 L233.38,203.24 L233.70,203.14 L233.74,203.13 L234.10,203.02 L234.46,202.90 L234.82,202.77 L235.18,202.64 L235.54,202.50 L235.90,202.36 L236.27,202.20 L236.63,202.04 L236.99,201.87 L237.35,201.69 L237.71,201.50 L237.91,201.39 L238.07,201.30 L238.43,201.09 L238.79,200.87 L239.15,200.63 L239.51,200.38 L239.88,200.11 L240.24,199.82 L240.60,199.52 L240.96,199.19 L241.32,198.84 L241.68,198.46 L242.04,198.05 L242.12,197.96 L242.40,197.61 L242.76,197.13 L243.12,196.61 L243.49,196.04 L243.85,195.43 L244.21,194.75 L244.57,194.01 L244.93,193.20 L245.29,192.30 L245.65,191.31 L246.01,190.22 L246.32,189.18 L246.37,189.01 L246.73,187.67 L247.10,186.19 L247.46,184.55 L247.82,182.75 L248.18,180.76 L248.54,178.57 L248.90,176.18 L249.26,173.58 L249.62,170.77 L249.98,167.75 L250.34,164.54 L250.53,162.83 L250.71,161.16 L251.07,157.66 L251.43,154.08 L251.79,150.49 L252.15,146.97 L252.51,143.63 L252.87,140.58 L253.23,137.93 L253.59,135.83 L253.95,134.41 L254.32,133.79 L254.68,134.10 L254.73,134.24 L255.04,135.40 L255.40,137.77 L255.76,141.22 L256.12,145.70 L256.48,151.14 L256.84,157.37 L257.20,164.20 L257.56,171.38 L257.93,178.63 L258.29,185.64 L258.65,192.08 L258.94,196.69 L259.01,197.66 L259.37,202.11 L259.73,205.21 L260.09,206.80 L260.45,206.80 L260.81,205.21 L261.17,202.11 L261.54,197.66 L261.90,192.08 L262.26,185.64 L262.62,178.63 L262.98,171.38 L263.15,168.03 L263.34,164.20 L263.70,157.37 L264.06,151.14 L264.42,145.70 L264.78,141.22 L265.15,137.77 L265.51,135.40 L265.87,134.10 L266.23,133.79 L266.59,134.41 L266.95,135.83 L267.31,137.93 L267.35,138.21 L267.67,140.58 L268.03,143.63 L268.39,146.97 L268.76,150.49 L269.12,154.08 L269.48,157.66 L269.84,161.16 L270.20,164.54 L270.56,167.75 L270.92,170.77 L271.28,173.58 L271.56,175.59 L271.64,176.18 L272.00,178.57 L272.37,180.76 L272.73,182.75 L273.09,184.55 L273.45,186.19 L273.81,187.67 L274.17,189.01 L274.53,190.22 L274.89,191.31 L275.25,192.30 L275.61,193.20 L275.77,193.54 L275.98,194.01 L276.34,194.75 L276.70,195.43 L277.06,196.04 L277.42,196.61 L277.78,197.13 L278.14,197.61 L278.50,198.05 L278.86,198.46 L279.22,198.84 L279.59,199.19 L279.95,199.52 L279.97,199.54 L280.31,199.82 L280.67,200.11 L281.03,200.38 L281.39,200.63 L281.75,200.87 L282.11,201.09 L282.47,201.30 L282.83,201.50 L283.20,201.69 L283.56,201.87 L283.92,202.04 L284.18,202.16 L284.28,202.20 L284.64,202.36 L285.00,202.50 L285.36,202.64 L285.72,202.77 L286.08,202.90 L286.44,203.02 L286.81,203.13 L287.17,203.24 L287.53,203.35 L287.89,203.45 L288.25,203.55 L288.38,203.58 L288.61,203.64 L288.97,203.73 L292.59,204.45 L296.80,205.02 L301.00,205.42 L305.21,205.71 L309.41,205.92 L313.62,206.09 L317.83,206.22 L322.03,206.32 L326.24,206.41 L330.44,206.48 L334.65,206.53 L338.86,206.58 L343.06,206.62 L347.27,206.66 L351.48,206.69 L355.68,206.72 L359.89,206.74 L364.09,206.76 L368.30,206.78" fill="none" stroke="#0000ff" stroke-width="1.5" stroke-dasharray="4.3 3.5" stroke-linejoin="round"/>
<line x1="376.7" y1="210.4" x2="558.8" y2="210.4" stroke="#2e2e2e" stroke-width="1.45"/>
<line x1="388.3" y1="210.4" x2="388.3" y2="216.4" stroke="#111" stroke-width="1.1"/>
<line x1="460.5" y1="210.4" x2="460.5" y2="216.4" stroke="#111" stroke-width="1.1"/>
<line x1="532.7" y1="210.4" x2="532.7" y2="216.4" stroke="#111" stroke-width="1.1"/>
<line x1="424.4" y1="210.4" x2="424.4" y2="213.20000000000002" stroke="#111" stroke-width="1.05"/>
<line x1="496.6" y1="210.4" x2="496.6" y2="213.20000000000002" stroke="#111" stroke-width="1.05"/>
<path d="M410.15,205.89 L413.86,205.84 L417.58,205.77 L421.30,205.68 L425.01,205.55 L428.73,205.36 L432.44,205.08 L436.16,204.63 L438.55,204.21 L438.87,204.14 L439.19,204.07 L439.50,203.99 L439.82,203.91 L439.88,203.90 L440.14,203.83 L440.46,203.74 L440.78,203.65 L441.09,203.55 L441.41,203.45 L441.73,203.34 L442.05,203.23 L442.37,203.11 L442.68,202.98 L443.00,202.85 L443.32,202.71 L443.59,202.58 L443.64,202.56 L443.95,202.40 L444.27,202.23 L444.59,202.05 L444.91,201.85 L445.23,201.64 L445.54,201.42 L445.86,201.19 L446.18,200.93 L446.50,200.66 L446.82,200.36 L447.13,200.04 L447.31,199.85 L447.45,199.69 L447.77,199.32 L448.09,198.91 L448.40,198.46 L448.72,197.97 L449.04,197.43 L449.36,196.84 L449.68,196.19 L449.99,195.47 L450.31,194.68 L450.63,193.79 L450.95,192.81 L451.03,192.55 L451.27,191.72 L451.58,190.51 L451.90,189.16 L452.22,187.66 L452.54,186.00 L452.85,184.17 L453.17,182.15 L453.49,179.92 L453.81,177.50 L454.13,174.87 L454.44,172.04 L454.74,169.22 L454.76,169.03 L455.08,165.85 L455.40,162.55 L455.72,159.18 L456.03,155.80 L456.35,152.50 L456.67,149.36 L456.99,146.51 L457.31,144.06 L457.62,142.15 L457.94,140.89 L458.26,140.42 L458.46,140.57 L458.58,140.83 L458.89,142.21 L459.21,144.60 L459.53,148.01 L459.85,152.38 L460.17,157.63 L460.48,163.58 L460.80,170.03 L461.12,176.73 L461.44,183.38 L461.76,189.68 L462.07,195.31 L462.18,196.94 L462.39,199.99 L462.71,203.45 L463.03,205.49 L463.34,205.97 L463.66,204.83 L463.98,202.10 L464.30,197.88 L464.62,192.35 L464.93,185.75 L465.25,178.37 L465.57,170.52 L465.89,162.54 L465.89,162.42 L466.21,154.73 L466.52,147.38 L466.84,140.75 L467.16,135.02 L467.48,130.35 L467.79,126.80 L468.11,124.42 L468.43,123.17 L468.75,122.98 L469.07,123.77 L469.38,125.40 L469.61,126.99 L469.70,127.74 L470.02,130.65 L470.34,133.98 L470.66,137.61 L470.97,141.42 L471.29,145.30 L471.61,149.18 L471.93,152.96 L472.24,156.62 L472.56,160.09 L472.88,163.37 L473.20,166.43 L473.32,167.58 L473.52,169.27 L473.83,171.88 L474.15,174.27 L474.47,176.46 L474.79,178.45 L475.11,180.27 L475.42,181.91 L475.74,183.40 L476.06,184.75 L476.38,185.98 L476.69,187.10 L477.01,188.11 L477.04,188.20 L477.33,189.04 L477.65,189.89 L477.97,190.66 L478.28,191.37 L478.60,192.02 L478.92,192.62 L479.24,193.18 L479.56,193.70 L479.87,194.18 L480.19,194.62 L480.51,195.04 L480.76,195.35 L480.83,195.43 L481.14,195.79 L481.46,196.14 L481.78,196.46 L482.10,196.76 L482.42,197.05 L482.73,197.32 L483.05,197.58 L483.37,197.82 L483.69,198.05 L484.01,198.27 L484.32,198.48 L484.47,198.57 L484.64,198.68 L484.96,198.87 L485.28,199.05 L485.59,199.22 L485.91,199.39 L486.23,199.54 L486.55,199.70 L486.87,199.84 L487.18,199.98 L487.50,200.11 L487.82,200.24 L488.14,200.37 L488.19,200.38 L488.46,200.48 L488.77,200.60 L489.09,200.71 L491.91,201.53 L495.62,202.30 L499.34,202.86 L503.06,203.27 L506.77,203.59 L510.49,203.85 L514.20,204.05 L517.92,204.22 L521.64,204.36 L525.35,204.48 L529.07,204.58 L532.79,204.66 L536.50,204.74 L540.22,204.81 L543.93,204.86 L547.65,204.92 L551.37,204.96 L555.08,205.00 L558.80,205.04" fill="none" stroke="#42b0fa" stroke-width="1.6" stroke-dasharray="4 2.5"/>
<path d="M421.30,206.00 L425.01,206.00 L428.73,206.00 L432.44,206.00 L436.16,206.00 L438.55,206.00 L438.87,206.00 L439.19,206.00 L439.50,206.00 L439.82,206.00 L439.88,206.00 L440.14,206.00 L440.46,206.00 L440.78,206.00 L441.09,206.00 L441.41,206.00 L441.73,206.00 L442.05,206.00 L442.37,206.00 L442.68,206.00 L443.00,206.00 L443.32,206.00 L443.59,206.00 L443.64,206.00 L443.95,206.00 L444.27,206.00 L444.59,206.00 L444.91,206.00 L445.23,206.00 L445.54,206.00 L445.86,206.00 L446.18,206.00 L446.50,206.00 L446.82,206.00 L447.13,206.00 L447.31,206.00 L447.45,206.00 L447.77,206.00 L448.09,206.00 L448.40,206.00 L448.72,206.00 L449.04,206.00 L449.36,206.00 L449.68,206.00 L449.99,206.00 L450.31,206.00 L450.63,205.99 L450.95,205.99 L451.03,205.99 L451.27,205.98 L451.58,205.97 L451.90,205.95 L452.22,205.93 L452.54,205.89 L452.85,205.83 L453.17,205.75 L453.49,205.62 L453.81,205.44 L454.13,205.19 L454.44,204.83 L454.74,204.37 L454.76,204.34 L455.08,203.66 L455.40,202.75 L455.72,201.54 L456.03,199.96 L456.35,197.91 L456.67,195.30 L456.99,192.03 L457.31,188.00 L457.62,183.08 L457.94,177.19 L458.26,170.25 L458.46,165.30 L458.58,162.19 L458.89,153.00 L459.21,142.69 L459.53,131.34 L459.85,119.07 L460.17,106.08 L460.48,92.60 L460.80,78.94 L461.12,65.45 L461.44,52.51 L461.76,40.52 L462.07,29.86 L462.18,26.76 L462.39,20.90 L462.71,13.97 L463.03,9.32 L463.34,7.12 L463.66,7.47 L463.98,10.34 L464.30,15.63 L464.62,23.14 L464.93,32.60 L465.25,43.66 L465.57,55.95 L465.89,69.08 L465.89,69.27 L466.21,82.65 L466.52,96.29 L466.84,109.66 L467.16,122.48 L467.48,134.52 L467.79,145.60 L468.11,155.61 L468.43,164.49 L468.75,172.24 L469.07,178.89 L469.38,184.51 L469.61,187.89 L469.70,189.17 L470.02,192.99 L470.34,196.07 L470.66,198.52 L470.97,200.43 L471.29,201.91 L471.61,203.03 L471.93,203.87 L472.24,204.49 L472.56,204.94 L472.88,205.27 L473.20,205.50 L473.32,205.57 L473.52,205.66 L473.83,205.77 L474.15,205.85 L474.47,205.90 L474.79,205.94 L475.11,205.96 L475.42,205.97 L475.74,205.98 L476.06,205.99 L476.38,205.99 L476.69,206.00 L477.01,206.00 L477.04,206.00 L477.33,206.00 L477.65,206.00 L477.97,206.00 L478.28,206.00 L478.60,206.00 L478.92,206.00 L479.24,206.00 L479.56,206.00 L479.87,206.00 L480.19,206.00 L480.51,206.00 L480.76,206.00 L480.83,206.00 L481.14,206.00 L481.46,206.00 L481.78,206.00 L482.10,206.00 L482.42,206.00 L482.73,206.00 L483.05,206.00 L483.37,206.00 L483.69,206.00 L484.01,206.00 L484.32,206.00 L484.47,206.00 L484.64,206.00 L484.96,206.00 L485.28,206.00 L485.59,206.00 L485.91,206.00 L486.23,206.00 L486.55,206.00 L486.87,206.00 L487.18,206.00 L487.50,206.00 L487.82,206.00 L488.14,206.00 L488.19,206.00 L488.46,206.00 L488.77,206.00 L489.09,206.00 L491.91,206.00 L495.62,206.00 L499.34,206.00 L503.06,206.00 L506.77,206.00 L510.49,206.00 L514.20,206.00 L517.92,206.00 L521.64,206.00 L525.35,206.00 L529.07,206.00 L532.79,206.00 L536.50,206.00 L540.22,206.00 L543.93,206.00 L547.65,206.00 L551.37,206.00 L555.08,206.00 L558.80,206.00" fill="none" stroke="#ee8026" stroke-width="1.35" stroke-dasharray="5.5 2.4"/>
<path d="M410.15,205.89 L413.86,205.84 L417.58,205.77 L421.30,205.68 L425.01,205.55 L428.73,205.36 L432.44,205.08 L436.16,204.63 L438.55,204.21 L438.87,204.14 L439.19,204.07 L439.50,203.99 L439.82,203.91 L439.88,203.90 L440.14,203.83 L440.46,203.74 L440.78,203.65 L441.09,203.55 L441.41,203.45 L441.73,203.34 L442.05,203.23 L442.37,203.11 L442.68,202.98 L443.00,202.85 L443.32,202.71 L443.59,202.58 L443.64,202.56 L443.95,202.40 L444.27,202.23 L444.59,202.05 L444.91,201.85 L445.23,201.64 L445.54,201.42 L445.86,201.19 L446.18,200.93 L446.50,200.66 L446.82,200.36 L447.13,200.04 L447.31,199.85 L447.45,199.69 L447.77,199.32 L448.09,198.91 L448.40,198.46 L448.72,197.97 L449.04,197.43 L449.36,196.84 L449.68,196.19 L449.99,195.47 L450.31,194.67 L450.63,193.78 L450.95,192.80 L451.03,192.54 L451.27,191.70 L451.58,190.48 L451.90,189.11 L452.22,187.59 L452.54,185.89 L452.85,184.00 L453.17,181.89 L453.49,179.55 L453.81,176.94 L454.13,174.06 L454.44,170.88 L454.74,167.59 L454.76,167.37 L455.08,163.52 L455.40,159.31 L455.72,154.73 L456.03,149.76 L456.35,144.41 L456.67,138.67 L456.99,132.55 L457.31,126.06 L457.62,119.23 L457.94,112.08 L458.26,104.67 L458.46,99.87 L458.58,97.02 L458.89,89.21 L459.21,81.29 L459.53,73.35 L459.85,65.46 L460.17,57.70 L460.48,50.18 L460.80,42.97 L461.12,36.18 L461.44,29.89 L461.76,24.19 L462.07,19.17 L462.18,17.70 L462.39,14.89 L462.71,11.42 L463.03,8.80 L463.34,7.09 L463.66,6.30 L463.98,6.45 L464.30,7.52 L464.62,9.50 L464.93,12.35 L465.25,16.03 L465.57,20.47 L465.89,25.61 L465.89,25.69 L466.21,31.37 L466.52,37.67 L466.84,44.41 L467.16,51.51 L467.48,58.87 L467.79,66.40 L468.11,74.02 L468.43,81.66 L468.75,89.22 L469.07,96.66 L469.38,103.91 L469.61,108.88 L469.70,110.91 L470.02,117.64 L470.34,124.05 L470.66,130.13 L470.97,135.85 L471.29,141.21 L471.61,146.20 L471.93,150.83 L472.24,155.11 L472.56,159.04 L472.88,162.64 L473.20,165.93 L473.32,167.16 L473.52,168.93 L473.83,171.65 L474.15,174.12 L474.47,176.36 L474.79,178.39 L475.11,180.22 L475.42,181.88 L475.74,183.38 L476.06,184.74 L476.38,185.98 L476.69,187.09 L477.01,188.11 L477.04,188.20 L477.33,189.04 L477.65,189.88 L477.97,190.66 L478.28,191.37 L478.60,192.02 L478.92,192.62 L479.24,193.18 L479.56,193.70 L479.87,194.18 L480.19,194.62 L480.51,195.04 L480.76,195.35 L480.83,195.43 L481.14,195.79 L481.46,196.14 L481.78,196.46 L482.10,196.76 L482.42,197.05 L482.73,197.32 L483.05,197.58 L483.37,197.82 L483.69,198.05 L484.01,198.27 L484.32,198.48 L484.47,198.57 L484.64,198.68 L484.96,198.87 L485.28,199.05 L485.59,199.22 L485.91,199.39 L486.23,199.54 L486.55,199.70 L486.87,199.84 L487.18,199.98 L487.50,200.11 L487.82,200.24 L488.14,200.37 L488.19,200.38 L488.46,200.48 L488.77,200.60 L489.09,200.71 L491.91,201.53 L495.62,202.30 L499.34,202.86 L503.06,203.27 L506.77,203.59 L510.49,203.85 L514.20,204.05 L517.92,204.22 L521.64,204.36 L525.35,204.48 L529.07,204.58 L532.79,204.66 L536.50,204.74 L540.22,204.81 L543.93,204.86 L547.65,204.92 L551.37,204.96 L555.08,205.00 L558.80,205.04" fill="none" stroke="#000" stroke-width="1.3" stroke-linejoin="round"/>
<line x1="376.9" y1="205.8" x2="410" y2="205.8" stroke="#777" stroke-width="1.7"/>
<line x1="494.2" y1="34.2" x2="478.60" y2="39.48" stroke="#ee8026" stroke-width="1"/>
<polygon points="469.70,42.50 477.86,37.31 479.34,41.66" fill="#ee8026"/>
<line x1="409.9" y1="89.6" x2="409.9" y2="101.2" stroke="#000" stroke-width="1.15"/>
<line x1="420.7" y1="89.6" x2="420.7" y2="101.2" stroke="#000" stroke-width="1.15"/>
<line x1="429.1" y1="98.3" x2="447.15" y2="101.69" stroke="#000" stroke-width="0.9"/>
<polygon points="455.70,103.30 446.78,103.66 447.52,99.73" fill="#000"/>
<line x1="505.2" y1="162.8" x2="473.35" y2="185.41" stroke="#42b0fa" stroke-width="1.2" stroke-dasharray="2.5 3"/>
<polygon points="465.20,191.20 471.50,182.80 475.21,188.02" fill="#42b0fa"/>
<line x1="579.5" y1="210.9" x2="740" y2="210.9" stroke="#2e2e2e" stroke-width="1.45"/>
<line x1="579.5999999999999" y1="210.9" x2="579.5999999999999" y2="216.5" stroke="#111" stroke-width="1.1"/>
<line x1="643.3" y1="210.9" x2="643.3" y2="216.5" stroke="#111" stroke-width="1.1"/>
<line x1="707.0" y1="210.9" x2="707.0" y2="216.5" stroke="#111" stroke-width="1.1"/>
<line x1="611.4499999999999" y1="210.9" x2="611.4499999999999" y2="213.9" stroke="#111" stroke-width="1.05"/>
<line x1="675.15" y1="210.9" x2="675.15" y2="213.9" stroke="#111" stroke-width="1.05"/>
<line x1="738.8499999999999" y1="210.9" x2="738.8499999999999" y2="213.9" stroke="#111" stroke-width="1.05"/>
<path d="M579.50,204.02 L580.51,203.85 L581.52,203.67 L582.53,203.48 L583.54,203.28 L584.55,203.07 L585.56,202.85 L586.57,202.62 L587.58,202.37 L588.58,202.10 L589.59,201.82 L590.60,201.52 L591.61,201.20 L592.62,200.86 L593.63,200.50 L594.64,200.11 L595.65,199.69 L596.66,199.24 L597.67,198.76 L598.68,198.24 L599.69,197.68 L600.70,197.07 L601.71,196.42 L602.72,195.71 L603.73,194.94 L604.74,194.11 L605.75,193.21 L606.75,192.24 L607.76,191.18 L608.77,190.04 L609.78,188.79 L610.79,187.45 L611.80,185.99 L612.81,184.41 L613.82,182.70 L614.83,180.85 L615.84,178.85 L616.85,176.70 L617.86,174.38 L618.87,171.88 L619.88,169.21 L620.89,166.34 L621.90,163.28 L622.91,160.02 L623.92,156.55 L624.92,152.87 L625.93,148.97 L626.94,144.86 L627.95,140.54 L628.96,136.00 L629.97,131.27 L630.98,126.33 L631.99,121.22 L633.00,115.92 L634.01,110.48 L635.02,104.89 L636.03,99.19 L637.04,93.39 L638.05,87.52 L639.06,81.62 L640.07,75.71 L641.08,69.83 L642.08,64.00 L643.09,58.28 L644.10,52.68 L645.11,47.26 L646.12,42.05 L647.13,37.08 L648.14,32.40 L649.15,28.04 L650.16,24.04 L651.17,20.41 L652.18,17.20 L653.19,14.44 L654.20,12.13 L655.21,10.31 L656.22,8.98 L657.23,8.16 L658.24,7.86 L659.25,8.06 L660.25,8.78 L661.26,10.01 L662.27,11.72 L663.28,13.91 L664.29,16.56 L665.30,19.64 L666.31,23.12 L667.32,26.98 L668.33,31.18 L669.34,35.70 L670.35,40.49 L671.36,45.51 L672.37,50.74 L673.38,56.13 L674.39,61.64 L675.40,67.25 L676.41,72.91 L677.42,78.59 L678.42,84.26 L679.43,89.90 L680.44,95.47 L681.45,100.94 L682.46,106.31 L683.47,111.53 L684.48,116.61 L685.49,121.53 L686.50,126.26 L687.51,130.81 L688.52,135.17 L689.53,139.33 L690.54,143.29 L691.55,147.04 L692.56,150.60 L693.57,153.96 L694.58,157.12 L695.58,160.09 L696.59,162.88 L697.60,165.49 L698.61,167.93 L699.62,170.21 L700.63,172.34 L701.64,174.31 L702.65,176.15 L703.66,177.86 L704.67,179.45 L705.68,180.93 L706.69,182.30 L707.70,183.57 L708.71,184.75 L709.72,185.85 L710.73,186.87 L711.74,187.82 L712.75,188.70 L713.75,189.52 L714.76,190.28 L715.77,191.00 L716.78,191.67 L717.79,192.29 L718.80,192.87 L719.81,193.42 L720.82,193.93 L721.83,194.42 L722.84,194.87 L723.85,195.30 L724.86,195.71 L725.87,196.09 L726.88,196.45 L727.89,196.80 L728.90,197.12 L729.91,197.43 L730.92,197.73 L731.92,198.01 L732.93,198.28 L733.94,198.53 L734.95,198.78 L735.96,199.01 L736.97,199.23 L737.98,199.45 L738.99,199.65 L740.00,199.85" fill="none" stroke="#000" stroke-width="2" stroke-linejoin="round"/>
<path d="M579.50,201.60 L580.51,201.39 L581.52,201.17 L582.53,200.94 L583.54,200.70 L584.55,200.44 L585.56,200.17 L586.57,199.89 L587.58,199.59 L588.58,199.27 L589.59,198.93 L590.60,198.58 L591.61,198.20 L592.62,197.79 L593.63,197.36 L594.64,196.90 L595.65,196.41 L596.66,195.88 L597.67,195.32 L598.68,194.72 L599.69,194.07 L600.70,193.37 L601.71,192.62 L602.72,191.81 L603.73,190.94 L604.74,189.99 L605.75,188.98 L606.75,187.88 L607.76,186.69 L608.77,185.41 L609.78,184.03 L610.79,182.53 L611.80,180.92 L612.81,179.17 L613.82,177.30 L614.83,175.28 L615.84,173.10 L616.85,170.77 L617.86,168.26 L618.87,165.58 L619.88,162.71 L620.89,159.65 L621.90,156.40 L622.91,152.94 L623.92,149.28 L624.92,145.42 L625.93,141.34 L626.94,137.07 L627.95,132.59 L628.96,127.91 L629.97,123.05 L630.98,118.01 L631.99,112.80 L633.00,107.45 L634.01,101.96 L635.02,96.37 L636.03,90.69 L637.04,84.95 L638.05,79.18 L639.06,73.41 L640.07,67.67 L641.08,61.99 L642.08,56.42 L643.09,50.99 L644.10,45.73 L645.11,40.69 L646.12,35.89 L647.13,31.39 L648.14,27.20 L649.15,23.37 L650.16,19.92 L651.17,16.89 L652.18,14.30 L653.19,12.17 L654.20,10.52 L655.21,9.37 L656.22,8.72 L657.23,8.58 L658.24,8.95 L659.25,9.83 L660.25,11.21 L661.26,13.09 L662.27,15.43 L663.28,18.22 L664.29,21.45 L665.30,25.07 L666.31,29.07 L667.32,33.41 L668.33,38.05 L669.34,42.97 L670.35,48.11 L671.36,53.46 L672.37,58.96 L673.38,64.58 L674.39,70.29 L675.40,76.05 L676.41,81.82 L677.42,87.58 L678.42,93.30 L679.43,98.94 L680.44,104.49 L681.45,109.91 L682.46,115.20 L683.47,120.33 L684.48,125.29 L685.49,130.07 L686.50,134.66 L687.51,139.05 L688.52,143.23 L689.53,147.21 L690.54,150.98 L691.55,154.55 L692.56,157.91 L693.57,161.08 L694.58,164.05 L695.58,166.83 L696.59,169.43 L697.60,171.85 L698.61,174.12 L699.62,176.22 L700.63,178.17 L701.64,179.99 L702.65,181.67 L703.66,183.23 L704.67,184.67 L705.68,186.01 L706.69,187.25 L707.70,188.39 L708.71,189.45 L709.72,190.43 L710.73,191.34 L711.74,192.19 L712.75,192.97 L713.75,193.70 L714.76,194.37 L715.77,195.00 L716.78,195.58 L717.79,196.13 L718.80,196.64 L719.81,197.12 L720.82,197.56 L721.83,197.98 L722.84,198.37 L723.85,198.74 L724.86,199.09 L725.87,199.42 L726.88,199.73 L727.89,200.02 L728.90,200.30 L729.91,200.56 L730.92,200.81 L731.92,201.05 L732.93,201.27 L733.94,201.49 L734.95,201.69 L735.96,201.89 L736.97,202.07 L737.98,202.25 L738.99,202.42 L740.00,202.59" fill="none" stroke="#0000ff" stroke-width="2.1" stroke-dasharray="5.5 4.6" stroke-linejoin="round"/>
<defs><filter id="ga" filterUnits="userSpaceOnUse" x="0" y="0" width="747" height="241"><feOffset dx="0" dy="0"/></filter></defs>
<g filter="url(#ga)">
<text x="42.0" y="228.3" font-size="8.6" fill="#000" stroke="#000" stroke-width="0.18" text-anchor="middle">2463</text>
<text x="85.0" y="228.3" font-size="8.6" fill="#000" stroke="#000" stroke-width="0.18" text-anchor="middle">2464</text>
<text x="128.0" y="228.3" font-size="8.6" fill="#000" stroke="#000" stroke-width="0.18" text-anchor="middle">2465</text>
<text x="84" y="239.5" font-size="10" fill="#000" stroke="#000" stroke-width="0.18" text-anchor="middle">Raman shift (cm<tspan dy="-3.8" font-size="7.2">-1</tspan><tspan dy="3.8">)</tspan></text>
<text x="65.0" y="25.4" font-size="13.3" fill="#000" stroke="#000" stroke-width="0.18" text-anchor="start">Re[<tspan dx="7.38">]</tspan></text>
<g transform="translate(86.16,25.40) scale(13.30,-13.30)" fill="none" stroke="#000" stroke-linecap="round"><path d="M0.035,0.40 C0.06,0.475 0.135,0.485 0.175,0.39 L0.335,-0.09 C0.365,-0.185 0.43,-0.195 0.465,-0.125" stroke-width="0.098"/><path d="M0.455,0.475 L0.045,-0.185" stroke-width="0.05"/></g>
<text x="25" y="146" font-size="10.5" fill="#000" stroke="#000" stroke-width="0.18" text-anchor="start">Q(1)</text>
<text x="95.8" y="145" font-size="10.5" fill="#000" stroke="#000" stroke-width="0.18" text-anchor="start">Q(0)</text>
<text x="19.5" y="203.3" font-size="10.5" fill="#000" stroke="#000" stroke-width="0.18" text-anchor="start">a)</text>
<text x="174.5" y="109.3" font-size="8.8" fill="#000" stroke="#000" stroke-width="0.18" text-anchor="middle">-0.1</text>
<text x="256.5" y="109.3" font-size="8.8" fill="#000" stroke="#000" stroke-width="0.18" text-anchor="middle">0.0</text>
<text x="338.5" y="109.3" font-size="8.8" fill="#000" stroke="#000" stroke-width="0.18" text-anchor="middle">0.1</text>
<text x="271" y="120" font-size="10" fill="#000" stroke="#000" stroke-width="0.18" text-anchor="middle">Raman shift - 2464.5(cm<tspan dy="-3.8" font-size="7.2">-1</tspan><tspan dy="3.8">)</tspan></text>
<text x="157.7" y="20.2" font-size="12.5" fill="#0000ff" stroke="#0000ff" stroke-width="0.18" text-anchor="start">Re[<tspan dx="6.94">]</tspan> from Q(0)</text>
<g transform="translate(177.59,20.20) scale(12.50,-12.50)" fill="none" stroke="#0000ff" stroke-linecap="round"><path d="M0.035,0.40 C0.06,0.475 0.135,0.485 0.175,0.39 L0.335,-0.09 C0.365,-0.185 0.43,-0.195 0.465,-0.125" stroke-width="0.098"/><path d="M0.455,0.475 L0.045,-0.185" stroke-width="0.05"/></g>
<text x="166.5" y="71.7" font-size="12.5" fill="#ff0000" stroke="#ff0000" stroke-width="0.18" text-anchor="start">Re[<tspan dx="6.94">]</tspan> from Q(1)</text>
<g transform="translate(186.39,71.70) scale(12.50,-12.50)" fill="none" stroke="#ff0000" stroke-linecap="round"><path d="M0.035,0.40 C0.06,0.475 0.135,0.485 0.175,0.39 L0.335,-0.09 C0.365,-0.185 0.43,-0.195 0.465,-0.125" stroke-width="0.098"/><path d="M0.455,0.475 L0.045,-0.185" stroke-width="0.05"/></g>
<text x="176" y="90" font-size="10.3" fill="#000" stroke="#000" stroke-width="0.18" text-anchor="start">b)</text>
<text x="174.5" y="227.6" font-size="8.8" fill="#000" stroke="#000" stroke-width="0.18" text-anchor="middle">-0.1</text>
<text x="256.5" y="227.6" font-size="8.8" fill="#000" stroke="#000" stroke-width="0.18" text-anchor="middle">0.0</text>
<text x="338.5" y="227.6" font-size="8.8" fill="#000" stroke="#000" stroke-width="0.18" text-anchor="middle">0.1</text>
<text x="270" y="238.8" font-size="10" fill="#000" stroke="#000" stroke-width="0.18" text-anchor="middle">Raman shift - 2464.5(cm<tspan dy="-3.8" font-size="7.2">-1</tspan><tspan dy="3.8">)</tspan></text>
<text x="306.3" y="162.0" font-size="14.1" fill="#000" stroke="#000" stroke-width="0.18" text-anchor="start">Re[<tspan dx="7.83">]</tspan><tspan dy="-7.5" font-size="9.6">2</tspan></text>
<g transform="translate(328.73,162.00) scale(14.10,-14.10)" fill="none" stroke="#000" stroke-linecap="round"><path d="M0.035,0.40 C0.06,0.475 0.135,0.485 0.175,0.39 L0.335,-0.09 C0.365,-0.185 0.43,-0.195 0.465,-0.125" stroke-width="0.098"/><path d="M0.455,0.475 L0.045,-0.185" stroke-width="0.05"/></g>
<text x="176" y="198.6" font-size="10.3" fill="#000" stroke="#000" stroke-width="0.18" text-anchor="start">c)</text>
<text x="388.3" y="227.3" font-size="8.8" fill="#000" stroke="#000" stroke-width="0.18" text-anchor="middle">-0.1</text>
<text x="460.5" y="227.3" font-size="8.8" fill="#000" stroke="#000" stroke-width="0.18" text-anchor="middle">0.0</text>
<text x="532.7" y="227.3" font-size="8.8" fill="#000" stroke="#000" stroke-width="0.18" text-anchor="middle">0.1</text>
<text x="462" y="238.5" font-size="10" fill="#000" stroke="#000" stroke-width="0.18" text-anchor="middle">Raman shift - 2464.5(cm<tspan dy="-3.8" font-size="7.2">-1</tspan><tspan dy="3.8">)</tspan></text>
<text x="498.2" y="36" font-size="13.6" fill="#ee8026" stroke="#ee8026" stroke-width="0.18" text-anchor="start">Im[<tspan dx="7.55">]</tspan><tspan dy="-5.4" font-size="9.2">2</tspan></text>
<g transform="translate(517.57,36.00) scale(13.60,-13.60)" fill="none" stroke="#ee8026" stroke-linecap="round"><path d="M0.035,0.40 C0.06,0.475 0.135,0.485 0.175,0.39 L0.335,-0.09 C0.365,-0.185 0.43,-0.195 0.465,-0.125" stroke-width="0.098"/><path d="M0.455,0.475 L0.045,-0.185" stroke-width="0.05"/></g>
<g transform="translate(411.89,99.00) scale(14.00,-14.00)" fill="none" stroke="#000" stroke-linecap="round"><path d="M0.035,0.40 C0.06,0.475 0.135,0.485 0.175,0.39 L0.335,-0.09 C0.365,-0.185 0.43,-0.195 0.465,-0.125" stroke-width="0.098"/><path d="M0.455,0.475 L0.045,-0.185" stroke-width="0.05"/></g>
<text x="422.3" y="93.0" font-size="9.4" fill="#000" stroke="#000" stroke-width="0.18" text-anchor="start">2</text>
<text x="510" y="165.5" font-size="13.8" fill="#42b0fa" stroke="#42b0fa" stroke-width="0.18" text-anchor="start">Re[<tspan dx="7.66">]</tspan><tspan dy="-6.3" font-size="9.1">2</tspan></text>
<g transform="translate(531.96,165.50) scale(13.80,-13.80)" fill="none" stroke="#42b0fa" stroke-linecap="round"><path d="M0.035,0.40 C0.06,0.475 0.135,0.485 0.175,0.39 L0.335,-0.09 C0.365,-0.185 0.43,-0.195 0.465,-0.125" stroke-width="0.098"/><path d="M0.455,0.475 L0.045,-0.185" stroke-width="0.05"/></g>
<text x="390" y="198" font-size="10.3" fill="#000" stroke="#000" stroke-width="0.18" text-anchor="start">d)</text>
<text x="579.5999999999999" y="228.5" font-size="8.8" fill="#000" stroke="#000" stroke-width="0.18" text-anchor="middle">-0.02</text>
<text x="643.3" y="228.5" font-size="8.8" fill="#000" stroke="#000" stroke-width="0.18" text-anchor="middle">0.00</text>
<text x="707.0" y="228.5" font-size="8.8" fill="#000" stroke="#000" stroke-width="0.18" text-anchor="middle">0.02</text>
<text x="664" y="238.3" font-size="10" fill="#000" stroke="#000" stroke-width="0.18" text-anchor="middle">Raman shift - 2464.5(cm<tspan dy="-3.8" font-size="7.2">-1</tspan><tspan dy="3.8">)</tspan></text>
<text x="580.9" y="191.1" font-size="10.3" fill="#000" stroke="#000" stroke-width="0.18" text-anchor="start">e)</text>
</g>
</svg>
</body></html>
